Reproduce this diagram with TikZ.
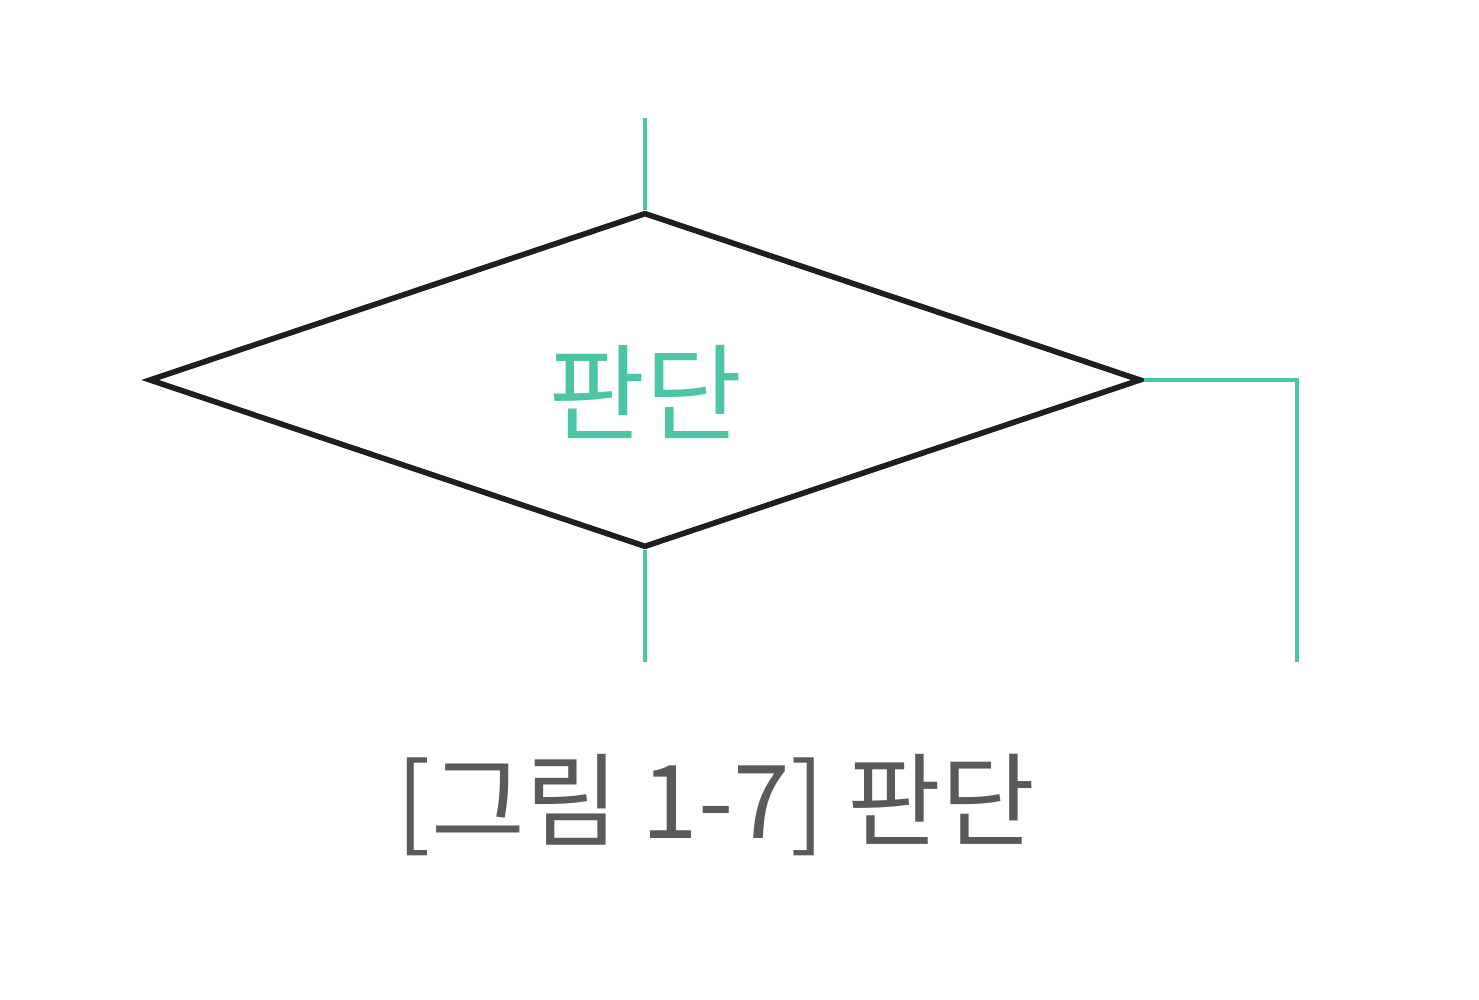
\documentclass[tikz,border=0pt]{standalone}
\usepackage{fontspec}
\setmainfont{Noto Sans CJK KR}
\usepackage{xcolor}
\definecolor{flowTeal}{HTML}{4CC4A6}
\definecolor{flowInk}{HTML}{1E1E1E}
\definecolor{flowGray}{HTML}{5A5A5A}
\usetikzlibrary{calc,shapes.geometric,positioning}

\begin{document}
\begin{tikzpicture}[
    dec/.style={diamond, draw=flowInk, line width=1.6pt, inner sep=0pt, minimum width=9.92cm, minimum height=3.35cm},
    flow/.style={draw=flowTeal, line width=1.2pt},
    declabel/.style={font=\fontsize{30}{34}\selectfont, text=flowTeal},
    figcap/.style={font=\fontsize{29}{34}\selectfont, text=flowGray}
  ]
    \useasboundingbox (0,0) rectangle (14.79,10);
    \node[dec] (judge) at (6.45,6.20) {};
    \node[declabel] (judgetext) at (6.45,6.08) {판단};
    \coordinate (inlet) at (6.45,8.82);
    \coordinate (outlet) at (6.45,3.38);
    \coordinate (bend) at (12.97,6.20);
    \coordinate (sideout) at (12.97,3.38);
    \draw[flow] (inlet) -- (judge.north);
    \draw[flow] (judge.south) -- (outlet);
    \draw[flow] (judge.east) -- (bend) -- (sideout);
    \node[figcap] (caption) at (7.16,1.95) {[그림 1-7] 판단};
  \end{tikzpicture}
\end{document}
